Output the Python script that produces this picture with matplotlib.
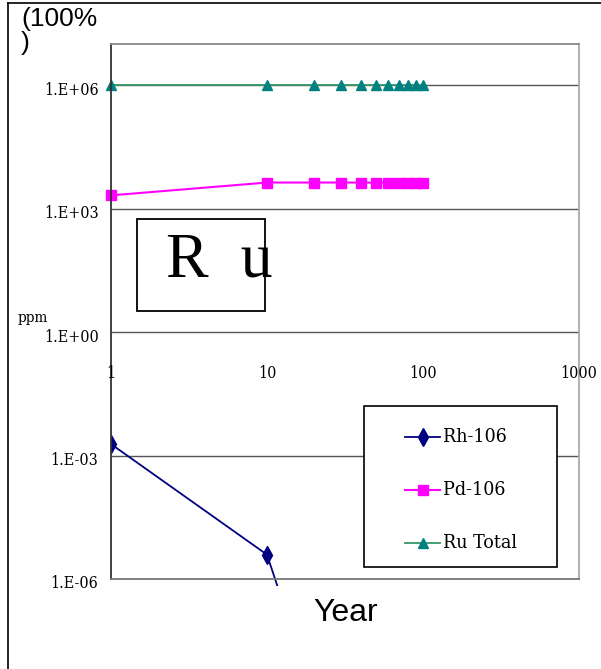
import matplotlib
matplotlib.use("Agg")
import matplotlib.pyplot as plt
from matplotlib.patches import Rectangle
from matplotlib.lines import Line2D
import matplotlib.transforms as mtransforms

# data
years_ru = [1, 10, 20, 30, 40, 50, 60, 70, 80, 90, 100]
ru_total = [1.0e6] * 11
years_pd = [1, 10, 20, 30, 40, 50, 60, 70, 80, 90, 100]
pd_106 = [2.1e3, 4.3e3, 4.3e3, 4.3e3, 4.3e3, 4.3e3, 4.3e3, 4.3e3, 4.3e3, 4.3e3, 4.3e3]
years_rh = [1, 10, 20]
rh_106 = [1.9e-3, 3.9e-6, 1.4e-9]

x_ticks = [1, 10, 100, 1000]
x_tick_labels = ["1", "10", "100", "1000"]
y_ticks = [1e-6, 1e-3, 1e0, 1e3, 1e6]
y_tick_labels = ["1.E-06", "1.E-03", "1.E+00", "1.E+03", "1.E+06"]
series_labels = ["Rh-106", "Pd-106", "Ru Total"]

W, H = 601, 669
SANS = "Liberation Sans"
SERIF = "Liberation Serif"
NARROW = dict(fontfamily="DejaVu Serif", fontstretch="condensed")


def fx(px):
    return px / W


def fy(py):
    return 1 - py / H


fig = plt.figure(figsize=(W / 100, H / 100), dpi=100)
fig.patch.set_facecolor("white")
ax = fig.add_axes([fx(111), fy(579), fx(579) - fx(111), fy(44) - fy(579)])
ax.set_xscale("log")
ax.set_yscale("log")
ax.set_xlim(1, 1000)
ax.set_ylim(1e-6, 1e7)

# series
rh_line, = ax.plot(years_rh, rh_106, color="#000080", marker="d", ms=9,
                   lw=1.3, label=series_labels[0])
pd_line, = ax.plot(years_pd, pd_106, color="#FF00FF", marker="s", ms=6.5,
                   lw=1.5, clip_on=False, label=series_labels[1])
ru_line, = ax.plot(years_ru, ru_total, color="#339966", marker="^", ms=7,
                   mfc="#008080", mec="#008080", lw=1.3, clip_on=False,
                   label=series_labels[2])
# Rh line runs a little past the bottom of the plot area, like the original
clip = Rectangle((0, -0.013), 1, 1.013, transform=ax.transAxes,
                 facecolor="none", edgecolor="none")
ax.add_patch(clip)
rh_line.set_clip_path(clip)

# axes styling
ax.set_yticks(y_ticks)
ax.set_yticklabels(y_tick_labels, fontsize=11.5, **NARROW)
ax.yaxis.set_minor_locator(matplotlib.ticker.NullLocator())
ax.xaxis.set_minor_locator(matplotlib.ticker.NullLocator())
ax.set_xticks(x_ticks)
ax.set_xticklabels([])
ax.tick_params(axis="both", length=0, pad=9)
# labels sit a touch below their grid lines in the original
shift = mtransforms.ScaledTranslation(0, -3 / 100, fig.dpi_scale_trans)
for lab in ax.get_yticklabels():
    lab.set_transform(lab.get_transform() + shift)
ax.yaxis.grid(True, color="#555555", lw=1)
ax.set_axisbelow(True)
ax.spines["left"].set_color("#333333")
ax.spines["bottom"].set_color("#777777")
ax.spines["top"].set_color("#888888")
ax.spines["right"].set_color("#aaaaaa")
for s in ax.spines.values():
    s.set_linewidth(1.3)

# x tick labels sit just below the 1E+00 line
trans = mtransforms.blended_transform_factory(ax.transData, ax.transData)
for t, lab in zip(x_ticks, x_tick_labels):
    ax.text(t, 0.1, lab, transform=trans, ha="center", va="center",
            fontsize=11.5, clip_on=False, **NARROW)

# outer frame
fig.add_artist(Line2D([fx(8), fx(8)], [fy(3), 0], color="black", lw=1.2))
fig.add_artist(Line2D([fx(8), 1], [fy(3), fy(3)], color="black", lw=1.2))

# titles
fig.text(fx(21), fy(7), "(100%\n)", fontfamily=SANS, fontsize=19,
         ha="left", va="top", linespacing=1.0)
fig.text(fx(18), fy(318), "ppm", fontsize=11, ha="left", va="center", **NARROW)
fig.text(fx(346), fy(613), "Year", fontfamily=SANS, fontsize=23,
         ha="center", va="center")

# "R u" box
fig.add_artist(Rectangle((fx(137), fy(311)), fx(265) - fx(137), fy(219) - fy(311),
                         transform=fig.transFigure, facecolor="white",
                         edgecolor="black", lw=1.3))
fig.text(fx(166), fy(276), "R  u", fontfamily=SERIF, fontsize=46,
         ha="left", va="baseline")

# legend drawn by hand to match the box
fig.add_artist(Rectangle((fx(364), fy(567)), fx(557) - fx(364), fy(406) - fy(567),
                         transform=fig.transFigure, facecolor="white",
                         edgecolor="black", lw=1.2))
for line, label, py in zip([rh_line, pd_line, ru_line], series_labels, [437, 490, 543]):
    fig.add_artist(Line2D([fx(405), fx(440)], [fy(py), fy(py)],
                          color=line.get_color(), lw=line.get_linewidth()))
    fig.add_artist(Line2D([fx(422.5)], [fy(py)], marker=line.get_marker(),
                          ms=line.get_markersize(), color=line.get_color(),
                          mfc=line.get_markerfacecolor(),
                          mec=line.get_markeredgecolor(), lw=0))
    fig.text(fx(443), fy(py), label, fontsize=14, ha="left", va="center", **NARROW)

fig.savefig("out.png", dpi=100)
